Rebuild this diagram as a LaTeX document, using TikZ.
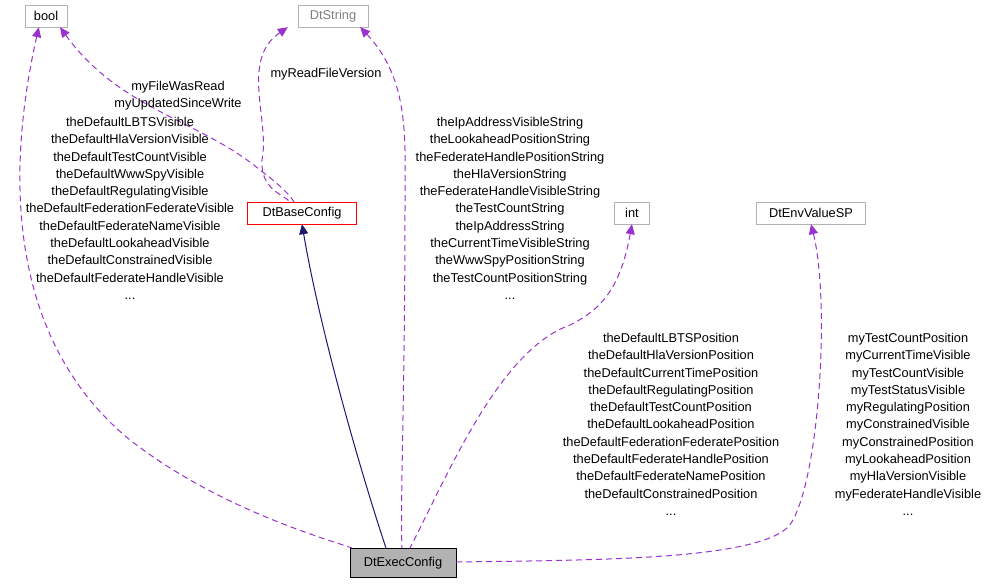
\documentclass[tikz,border=0pt]{standalone}
\usepackage{fontspec}
\setmainfont{Liberation Sans}
\usetikzlibrary{arrows.meta}
\definecolor{dp}{RGB}{154,50,205}
\definecolor{nv}{RGB}{25,25,112}
\begin{document}
\begin{tikzpicture}[x=1pt,y=-1pt,
 box/.style={draw=gray!60,fill=white,minimum height=22pt,inner sep=4pt,font=\fontsize{12.8}{14}\selectfont},
 lab/.style={align=center,font=\fontsize{12.8}{17.3}\selectfont,inner sep=0pt},
 dep/.style={draw=dp,line width=1pt,dash pattern=on 6pt off 4pt,{Triangle[length=10pt,width=9pt]}-},
 inh/.style={draw=nv,line width=1pt,{Triangle[length=10pt,width=9pt]}-}]
\useasboundingbox (0,0) rectangle (988,584);
\node[box,minimum width=42pt] (bool) at (46,16) {bool};
\node[box,minimum width=70pt,text=gray] (str) at (333,16) {DtString};
\node[box,draw=red,minimum width=109pt] (base) at (302,213) {DtBaseConfig};
\node[box,minimum width=35pt] (int) at (632,213) {int};
\node[box,minimum width=109pt] (env) at (811,213) {DtEnvValueSP};
\node[box,draw=black,fill=gray!60,minimum width=106pt,minimum height=29pt] (exec) at (403,563) {DtExecConfig};
\draw[inh] (base.south) .. controls (320,330) and (360,470) .. (386,548);
\draw[dep] (bool.south west)++(14,0) .. controls (0,200) and (20,350) .. (130,440) .. controls (220,510) and (330,540) .. (352,548);
\draw[dep] (bool.south)++(14,0) .. controls (120,110) and (200,120) .. (260,170) .. controls (280,185) and (290,195) .. (294,202);
\draw[dep] (str.south west)++(-10,0) .. controls (240,60) and (270,120) .. (262,160) .. controls (260,190) and (285,195) .. (290,202);
\draw[dep] (str.south east)++(-8,0) .. controls (410,80) and (405,140) .. (405,200) .. controls (405,400) and (400,500) .. (402,548);
\draw[dep] (int.south) .. controls (620,290) and (600,310) .. (570,325) .. controls (500,350) and (450,470) .. (410,548);
\draw[dep] (env.south) .. controls (830,300) and (820,480) .. (790,525) .. controls (760,560) and (600,560) .. (456,562);
\node[lab] at (178,96) {myFileWasRead\\myUpdatedSinceWrite};
\node[lab] at (326,74) {myReadFileVersion};
\node[lab,anchor=north] at (130,117) {theDefaultLBTSVisible\\theDefaultHlaVersionVisible\\theDefaultTestCountVisible\\theDefaultWwwSpyVisible\\theDefaultRegulatingVisible\\theDefaultFederationFederateVisible\\theDefaultFederateNameVisible\\theDefaultLookaheadVisible\\theDefaultConstrainedVisible\\theDefaultFederateHandleVisible\\...};
\node[lab,anchor=north] at (510,117) {theIpAddressVisibleString\\theLookaheadPositionString\\theFederateHandlePositionString\\theHlaVersionString\\theFederateHandleVisibleString\\theTestCountString\\theIpAddressString\\theCurrentTimeVisibleString\\theWwwSpyPositionString\\theTestCountPositionString\\...};
\node[lab,anchor=north] at (671,333) {theDefaultLBTSPosition\\theDefaultHlaVersionPosition\\theDefaultCurrentTimePosition\\theDefaultRegulatingPosition\\theDefaultTestCountPosition\\theDefaultLookaheadPosition\\theDefaultFederationFederatePosition\\theDefaultFederateHandlePosition\\theDefaultFederateNamePosition\\theDefaultConstrainedPosition\\...};
\node[lab,anchor=north] at (908,333) {myTestCountPosition\\myCurrentTimeVisible\\myTestCountVisible\\myTestStatusVisible\\myRegulatingPosition\\myConstrainedVisible\\myConstrainedPosition\\myLookaheadPosition\\myHlaVersionVisible\\myFederateHandleVisible\\...};
\end{tikzpicture}
\end{document}
